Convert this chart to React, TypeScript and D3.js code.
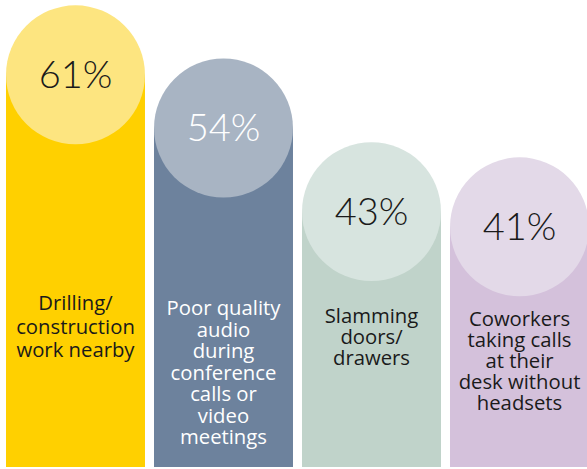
import React from "react";
import * as d3 from "d3";

const categories = ["drilling", "audio", "doors", "coworkers"];
const values = [61, 54, 43, 41];
const valueLabels = ["61%", "54%", "43%", "41%"];
const labelLines = [
  ["Drilling/", "construction", "work nearby"],
  ["Poor quality", "audio", "during", "conference", "calls or", "video", "meetings"],
  ["Slamming", "doors/", "drawers"],
  ["Coworkers", "taking calls", "at their", "desk without", "headsets"],
];

const barColors = ["#FFD000", "#6D829D", "#C0D3CA", "#D4C1DB"];
const circleColors = ["#FDE580", "#A8B4C3", "#D7E4DF", "#E3D9E8"];
const textColors = ["#1a1a1a", "#ffffff", "#1a1a1a", "#1a1a1a"];
const labelFirstY = [310, 315, 323, 326];
const labelLineH = [23.5, 21.5, 21, 21];

const W = 587;
const H = 469;

export default function App() {
  const x = d3.scaleBand<string>().domain(categories).range([6, 589]).paddingInner(0.061).paddingOuter(0);
  const y = d3.scaleLinear().domain([0, 61.7]).range([469, 0]);
  const bw = x.bandwidth();
  const r = bw / 2;
  const bottom = 467;
  return (
    <svg width={W} height={H} style={{ position: "absolute", left: 0, top: 0 }}>
      <rect x={0} y={0} width={W} height={H} fill="#ffffff" />
      {categories.map((c, i) => {
        const x0 = x(c) as number;
        const cx = x0 + r;
        const cy = y(values[i]) + r;
        return (
          <g key={c}>
            <rect x={x0} y={cy} width={bw} height={bottom - cy} fill={barColors[i]} />
            <circle cx={cx} cy={cy} r={r} fill={circleColors[i]} />
            <text
              x={cx}
              y={cy + 13}
              textAnchor="middle"
              fontFamily="Lato"
              fontWeight={300}
              fontSize={38}
              fill={textColors[i]}
            >
              {valueLabels[i]}
            </text>
            <text
              textAnchor="middle"
              fontFamily="Open Sans"
              fontSize={20.3}
              fill={textColors[i]}
            >
              {labelLines[i].map((ln, j) => (
                <tspan key={j} x={cx} y={labelFirstY[i] + j * labelLineH[i]}>
                  {ln}
                </tspan>
              ))}
            </text>
          </g>
        );
      })}
    </svg>
  );
}
